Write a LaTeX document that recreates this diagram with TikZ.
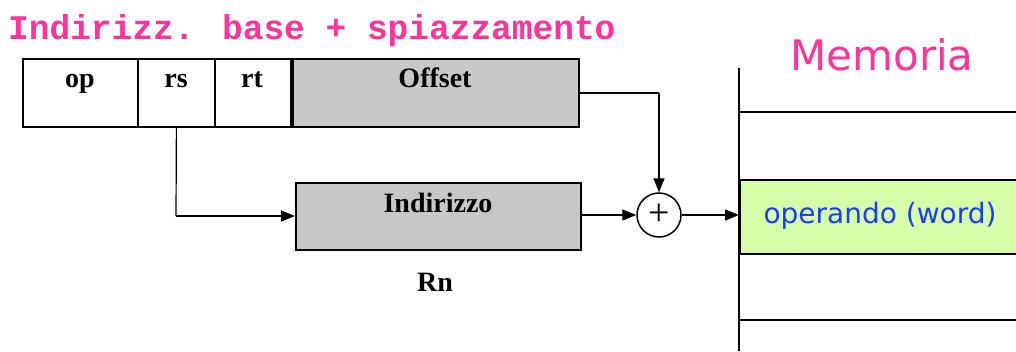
\documentclass[tikz,border=0pt]{standalone}
\usepackage{fontspec}
\setmainfont{Liberation Serif}
\newfontfamily\monofnt{Liberation Mono}
\newfontfamily\verdfnt{DejaVu Sans}
\usetikzlibrary{arrows.meta}
\definecolor{pinkt}{HTML}{FF3399}
\definecolor{grayf}{HTML}{C8C8C8}
\definecolor{greenf}{HTML}{D6FCA9}
\definecolor{bluet}{HTML}{1A3CFF}
\tikzset{
  field/.style={draw=black, line width=1.8pt, anchor=north west, inner sep=0pt},
  reg/.style={field, fill=grayf},
  lbl/.style={font=\fontsize{28}{30}\selectfont\bfseries, anchor=base, inner sep=0pt},
  conn/.style={line width=1.2pt, -{Triangle[length=14pt,width=11pt]}},
  plain/.style={line width=1.2pt},
  memline/.style={line width=2.2pt}
}
\begin{document}
\begin{tikzpicture}[x=1pt,y=-1pt]
\useasboundingbox (0,0) rectangle (1016,351);
\node[text=pinkt, font=\fontsize{34.5}{36}\selectfont\monofnt\bfseries, anchor=base west, inner sep=0pt] (title) at (8,39) {Indirizz. base + spiazzamento};
% instruction fields
\node[field, minimum width=115pt, minimum height=68pt] (op) at (22,58) {};
\node[field, minimum width=77pt, minimum height=68pt] (rs) at (137,58) {};
\node[field, minimum width=76pt, minimum height=68pt] (rt) at (214,58) {};
\node[reg, minimum width=286pt, minimum height=68pt] (off) at (292,58) {};
\node[lbl] (opt) at (80,87) {op};
\node[lbl] (rst) at (176,87) {rs};
\node[lbl] (rtt) at (252,87) {rt};
\node[lbl] (offt) at (435,87) {Offset};
% register
\node[reg, minimum width=285pt, minimum height=67pt] (ind) at (295,182) {};
\node[lbl] (indt) at (438,212) {Indirizzo};
\node[lbl] (rn) at (435,291) {Rn};
% adder
\node[circle, draw, line width=1.5pt, minimum size=44pt, inner sep=0pt] (add) at (659,215) {};
\node[font=\fontsize{38}{40}\selectfont, inner sep=0pt] (plus) at (add.center) {+};
% memory
\node[fill=greenf, draw=black, line width=2.2pt, anchor=north west, minimum width=290pt, minimum height=74pt, inner sep=0pt] (mem) at (739,179) {};
\node[text=bluet, font=\fontsize{28}{30}\selectfont\verdfnt] (memtxt) at (880,216) {operando (word)};
\draw[memline] (739,68) -- (739,351);
\draw[memline] (739,112) -- (1016,112);
\draw[memline] (739,320) -- (1016,320);
\node[text=pinkt, font=\fontsize{42}{46}\selectfont\verdfnt] (memt) at (882,55) {Memoria};
% connectors
\coordinate (c1) at (659,93);
\draw[plain] (off.east |- c1) -- (c1);
\draw[conn] (c1) -- (add.north);
\coordinate (c2) at (176,216);
\draw[plain] (rs.south) -- (c2);
\draw[conn] (c2) -- (ind.west |- c2);
\draw[conn] (ind.east |- add.west) -- (add.west);
\draw[conn] (add.east) -- (mem.west |- add.east);
\end{tikzpicture}
\end{document}
